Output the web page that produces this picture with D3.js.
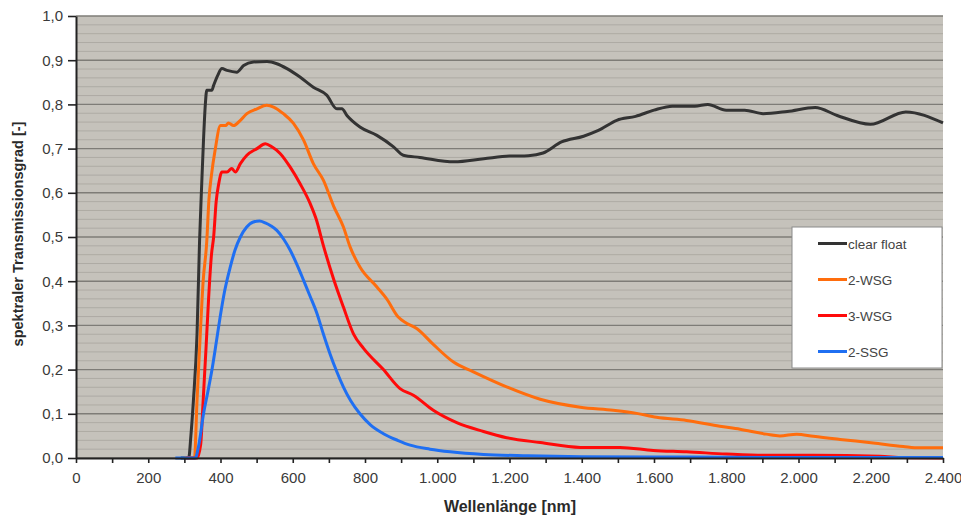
<!DOCTYPE html>
<html>
<head>
<meta charset="utf-8">
<script src="https://cdn.jsdelivr.net/npm/d3@7"></script>
<style>
  html, body { margin: 0; padding: 0; background: #ffffff; }
  svg { display: block; font-family: "Liberation Sans", Arial, sans-serif; }
</style>
</head>
<body>
<svg id="chart" width="961" height="515"></svg>
<script>
// Spectral transmittance [-] against wavelength [nm]
const clearFloat = [
  [290,0],[312,0],[318,0.05],[325,0.13],[335,0.28],[342,0.49],[348,0.62],[353,0.72],[358,0.80],
  [362,0.832],[376,0.832],[381,0.843],[392,0.865],[404,0.881],[418,0.877],[445,0.873],[464,0.888],
  [491,0.896],[529,0.897],[556,0.892],[584,0.881],[620,0.862],[657,0.839],[694,0.821],[722,0.790],
  [736,0.790],[750,0.775],[786,0.749],[833,0.730],[879,0.704],[906,0.685],[952,0.680],[1047,0.670],
  [1129,0.677],[1200,0.683],[1252,0.684],[1293,0.690],[1344,0.715],[1405,0.728],[1446,0.741],
  [1497,0.764],[1549,0.773],[1600,0.787],[1651,0.796],[1713,0.796],[1749,0.800],[1800,0.787],
  [1851,0.787],[1902,0.779],[1969,0.784],[2046,0.793],[2107,0.775],[2199,0.755],[2297,0.783],
  [2400,0.758]
];
const wsg2 = [
  [300,0],[328,0],[335,0.13],[344,0.28],[352,0.40],[362,0.49],[368,0.585],[375,0.64],[385,0.696],
  [400,0.752],[414,0.752],[422,0.758],[436,0.752],[455,0.764],[473,0.779],[501,0.790],[528,0.798],
  [547,0.794],[574,0.779],[602,0.757],[630,0.719],[657,0.666],[685,0.628],[713,0.570],[740,0.523],
  [759,0.477],[786,0.432],[833,0.387],[860,0.360],[892,0.319],[915,0.305],[943,0.293],[989,0.257],
  [1045,0.217],[1100,0.195],[1192,0.161],[1285,0.133],[1396,0.115],[1487,0.108],[1552,0.101],
  [1607,0.092],[1690,0.085],[1782,0.072],[1838,0.065],[1911,0.054],[1948,0.050],[1995,0.054],
  [2041,0.049],[2115,0.042],[2207,0.034],[2290,0.026],[2336,0.023],[2400,0.023]
];
const wsg3 = [
  [305,0],[335,0],[345,0.03],[352,0.13],[360,0.25],[367,0.36],[375,0.46],[381,0.50],[388,0.58],
  [395,0.62],[404,0.647],[418,0.647],[431,0.655],[441,0.647],[455,0.666],[473,0.685],[501,0.700],
  [524,0.711],[542,0.704],[565,0.689],[593,0.658],[620,0.621],[648,0.576],[665,0.540],[685,0.480],
  [713,0.405],[740,0.342],[768,0.281],[796,0.248],[851,0.200],[897,0.157],[934,0.142],[989,0.108],
  [1054,0.080],[1128,0.060],[1192,0.046],[1285,0.035],[1396,0.024],[1506,0.024],[1598,0.017],
  [1690,0.014],[1800,0.009],[1911,0.006],[2041,0.006],[2225,0.004],[2290,0.001],[2400,0]
];
const ssg2 = [
  [275,0],[330,0],[340,0.03],[353,0.10],[365,0.15],[376,0.198],[388,0.26],[399,0.319],[412,0.38],
  [427,0.432],[440,0.47],[455,0.50],[472,0.522],[491,0.534],[508,0.536],[524,0.532],[540,0.525],
  [556,0.515],[575,0.495],[593,0.47],[612,0.437],[630,0.402],[648,0.366],[667,0.327],[685,0.28],
  [703,0.236],[722,0.195],[740,0.161],[760,0.13],[786,0.10],[815,0.075],[851,0.055],[890,0.04],
  [925,0.029],[980,0.02],[1036,0.014],[1128,0.008],[1250,0.005],[1400,0.003],[1700,0.002],
  [2000,0.001],[2400,0.001]
];

const seriesNames  = ["clear float", "2-WSG", "3-WSG", "2-SSG"];
const seriesData   = [clearFloat, wsg2, wsg3, ssg2];
const seriesColors = ["#333333", "#ff6d0d", "#ff0a0a", "#1f6ff2"];

const xTicks = [0,200,400,600,800,1000,1200,1400,1600,1800,2000,2200,2400];
const xMinorTicks = d3.range(0, 2401, 100);
const yTicks = d3.range(0, 11).map(i => i / 10);
const yMinor = d3.range(0, 51).map(i => i / 50);

const svg = d3.select("#chart");
const plotLeft = 76, plotRight = 943, plotTop = 16, plotBottom = 458;

const x = d3.scaleLinear().domain([0, 2400]).range([plotLeft, plotRight]);
const y = d3.scaleLinear().domain([0, 1]).range([plotBottom, plotTop]);

// plot background
svg.append("rect")
  .attr("x", plotLeft).attr("y", plotTop)
  .attr("width", plotRight - plotLeft).attr("height", plotBottom - plotTop)
  .attr("fill", "#c5c2bb");

// minor grid
svg.append("g").selectAll("line")
  .data(yMinor.filter((d, i) => i % 5 !== 0))
  .join("line")
  .attr("x1", plotLeft).attr("x2", plotRight)
  .attr("y1", d => y(d)).attr("y2", d => y(d))
  .attr("stroke", "#aeaba4").attr("stroke-width", 1);

// major grid
svg.append("g").selectAll("line")
  .data(yTicks)
  .join("line")
  .attr("x1", plotLeft).attr("x2", plotRight)
  .attr("y1", d => y(d)).attr("y2", d => y(d))
  .attr("stroke", "#7e7c77").attr("stroke-width", 1.4);

// curves
const line = d3.line()
  .x(d => x(d[0]))
  .y(d => y(d[1]))
  .curve(d3.curveMonotoneX);

svg.append("g").selectAll("path")
  .data(seriesData)
  .join("path")
  .attr("d", d => line(d))
  .attr("fill", "none")
  .attr("stroke", (d, i) => seriesColors[i])
  .attr("stroke-width", 3)
  .attr("stroke-linejoin", "round");

// axes (German number format)
const de = d3.formatLocale({ decimal: ",", thousands: ".", grouping: [3], currency: ["", ""] });
const fmtX = de.format(",d");
const fmtY = de.format(".1f");

const xAxis = svg.append("g")
  .attr("transform", `translate(0,${plotBottom})`)
  .call(d3.axisBottom(x).tickValues(xMinorTicks).tickSize(5).tickSizeOuter(0)
    .tickFormat(d => xTicks.includes(d) ? fmtX(d) : ""));
xAxis.select(".domain").attr("stroke", "#222").attr("stroke-width", 2);
xAxis.selectAll(".tick line").attr("stroke", "#222").attr("stroke-width", 1.6);
xAxis.selectAll(".tick text")
  .attr("y", 14)
  .attr("fill", "#3a3a3a")
  .attr("font-size", "15px");

const yAxis = svg.append("g")
  .attr("transform", `translate(${plotLeft},0)`)
  .call(d3.axisLeft(y).tickValues(yTicks).tickSize(8).tickSizeOuter(0).tickFormat(fmtY));
yAxis.select(".domain").attr("stroke", "#222").attr("stroke-width", 2);
yAxis.selectAll(".tick line").attr("stroke", "#222").attr("stroke-width", 1.6);
yAxis.selectAll(".tick text")
  .attr("x", -13)
  .attr("fill", "#3a3a3a")
  .attr("font-size", "15px");

// axis titles
svg.append("text")
  .attr("transform", `translate(23,${(plotTop + plotBottom) / 2 - 3}) rotate(-90)`)
  .attr("text-anchor", "middle")
  .attr("font-size", "14.5px")
  .attr("font-weight", "bold")
  .attr("fill", "#2a2a2a")
  .text("spektraler Transmissionsgrad [-]");

svg.append("text")
  .attr("x", 510)
  .attr("y", 512)
  .attr("text-anchor", "middle")
  .attr("font-size", "16px")
  .attr("font-weight", "bold")
  .attr("fill", "#2a2a2a")
  .text("Wellenlänge [nm]");

// legend
const legend = svg.append("g").attr("transform", "translate(792,227)");
legend.append("rect")
  .attr("width", 150).attr("height", 141)
  .attr("fill", "#ffffff")
  .attr("stroke", "#8a8a8a").attr("stroke-width", 1);
const rows = legend.selectAll("g.row")
  .data(seriesNames)
  .join("g")
  .attr("class", "row")
  .attr("transform", (d, i) => `translate(0,${16.5 + i * 36})`);
rows.append("line")
  .attr("x1", 26).attr("x2", 55)
  .attr("stroke", (d, i) => seriesColors[i])
  .attr("stroke-width", 3);
rows.append("text")
  .attr("x", 56).attr("y", 5)
  .attr("font-size", "13.5px")
  .attr("fill", "#444")
  .text(d => d);
</script>
</body>
</html>
